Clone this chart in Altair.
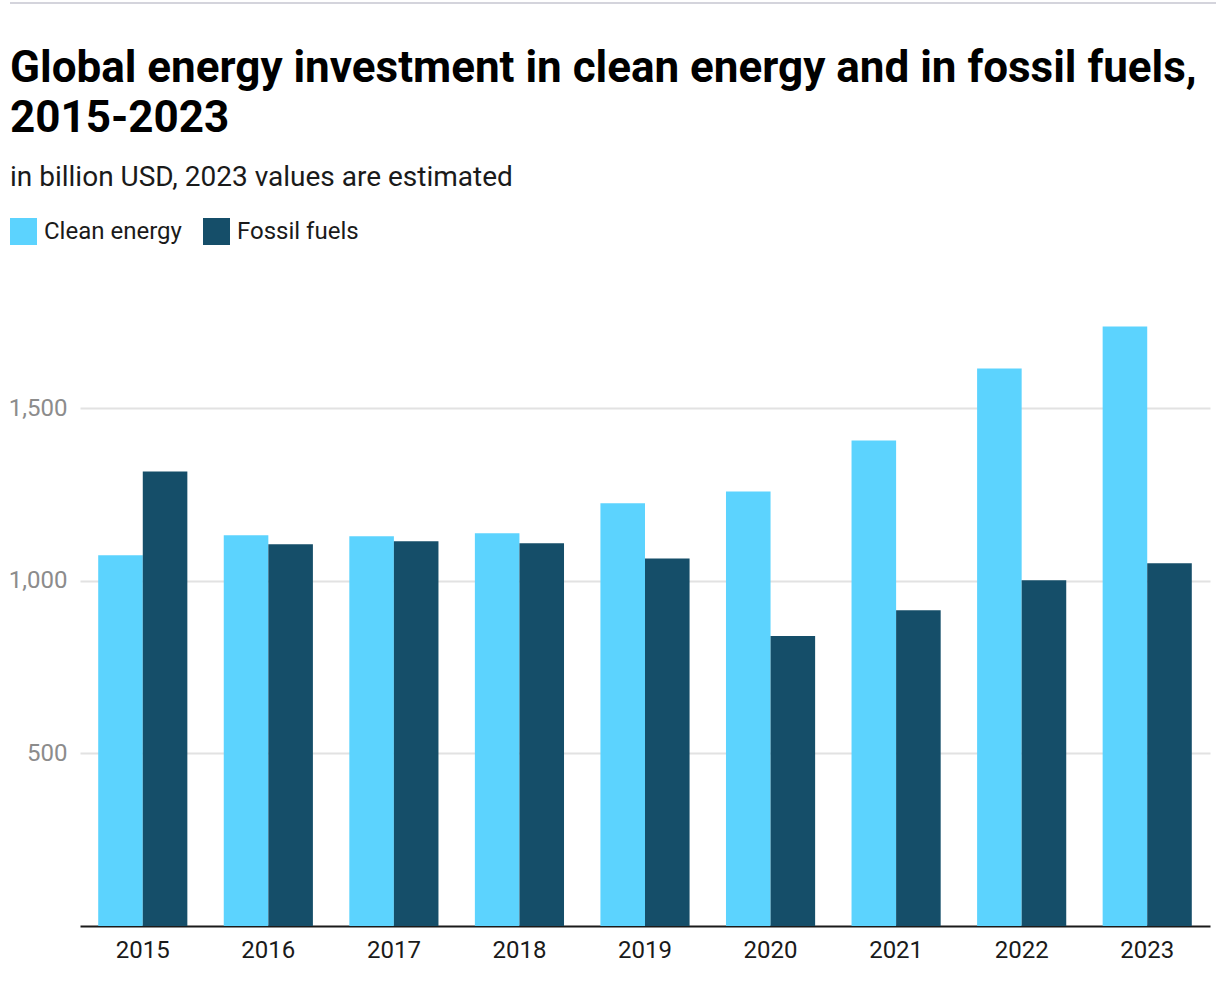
import altair as alt
import pandas as pd

years = ["2015", "2016", "2017", "2018", "2019", "2020", "2021", "2022", "2023"]
clean_energy = [1074, 1132, 1129, 1138, 1225, 1259, 1407, 1615, 1737]
fossil_fuels = [1317, 1106, 1115, 1109, 1065, 840, 915, 1002, 1051]
series_names = ["Clean energy", "Fossil fuels"]
series_colors = ["#5CD3FE", "#154E69"]
y_ticks = [500, 1000, 1500]

rows = []
for i, y in enumerate(years):
    rows.append({"year": y, "series": series_names[0], "value": clean_energy[i]})
    rows.append({"year": y, "series": series_names[1], "value": fossil_fuels[i]})
df = pd.DataFrame(rows)

FONT = "Roboto"

bars = alt.Chart(df).mark_bar().encode(
    x=alt.X("year:N", sort=years, title=None,
            scale=alt.Scale(paddingInner=0.29, paddingOuter=0.145),
            axis=alt.Axis(labelAngle=0, labelFontSize=24, labelColor="#1a1a1a",
                          labelFont=FONT, labelPadding=12, ticks=False,
                          domainColor="#1a1a1a", domainWidth=2, grid=False)),
    xOffset=alt.XOffset("series:N", sort=series_names),
    y=alt.Y("value:Q", title=None,
            scale=alt.Scale(domain=[0, 1750], nice=False),
            axis=alt.Axis(values=y_ticks, format=",.0f", labelFontSize=24,
                          labelColor="#8c8c8c", labelFont=FONT, labelPadding=13,
                          ticks=False, domain=False, grid=True,
                          gridColor="#e2e2e2", gridWidth=2)),
    color=alt.Color("series:N", sort=series_names,
                    scale=alt.Scale(domain=series_names, range=series_colors),
                    legend=alt.Legend(title=None, orient="none", legendX=-70, legendY=-104,
                                      direction="horizontal", symbolType="square",
                                      symbolSize=729, symbolStrokeWidth=0,
                                      labelFontSize=24, labelFont=FONT, labelColor="#1a1a1a",
                                      labelOffset=7, columnPadding=21)),
)

top_rule = alt.Chart(pd.DataFrame({"k": [0]})).mark_rule(color="#d4d4dc", strokeWidth=2).encode(
    x=alt.value(-70), x2=alt.value(1136), y=alt.value(-319)
)

chart = alt.layer(top_rule, bars).properties(
    width=1130, height=604,
    padding={"left": 80, "top": 322, "right": 16, "bottom": 72},
    autosize=alt.AutoSizeParams(type="none"),
    title=alt.Title(
        ["Global energy investment in clean energy and in fossil fuels,", "2015-2023"],
        subtitle="in billion USD, 2023 values are estimated",
        anchor="start", frame="group", dx=-70, dy=190,
        font=FONT, fontSize=44, fontWeight="bold", color="#000000", lineHeight=50,
        subtitleFont=FONT, subtitleFontSize=28, subtitleColor="#1a1a1a", subtitlePadding=23,
        offset=0,
    ),
).configure_view(stroke=None)

chart.save("out.html", embed_options={"renderer": "svg", "actions": False})
